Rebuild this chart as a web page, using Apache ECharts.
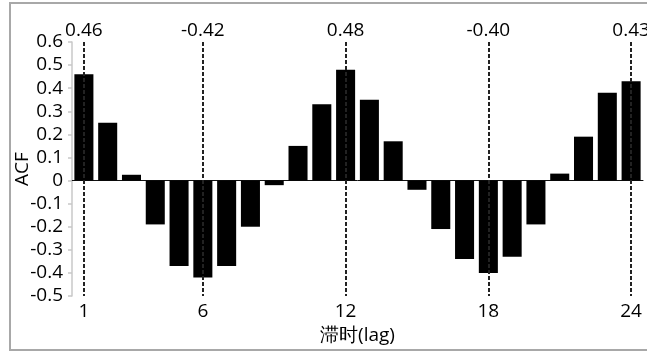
<!DOCTYPE html>
<html>
<head>
<meta charset="utf-8">
<script src="https://cdn.jsdelivr.net/npm/echarts@6/dist/echarts.min.js"></script>
<style>
  html, body { margin: 0; padding: 0; background: #fff; }
  #chart { width: 647px; height: 354px; }
</style>
</head>
<body>
<div id="chart"></div>
<script>
// Autocorrelation by lag
const lags = ['1','2','3','4','5','6','7','8','9','10','11','12','13','14','15','16','17','18','19','20','21','22','23','24'];
const acf = [0.46, 0.25, 0.025, -0.19, -0.37, -0.42, -0.37, -0.20, -0.02, 0.15, 0.33, 0.48,
             0.35, 0.17, -0.04, -0.21, -0.34, -0.40, -0.33, -0.19, 0.03, 0.19, 0.38, 0.43];
// Lags marked with a dashed guide and their value
const markedLags = ['1', '6', '12', '18', '24'];
const yTicks = { min: -0.5, max: 0.6, step: 0.1 };

const FONT = 'Open Sans';
const FS = 19;
const chart = echarts.init(document.getElementById('chart'), null, { renderer: 'canvas' });

const guideLines = markedLags.map(lag => {
  const v = acf[lags.indexOf(lag)];
  return [
    { coord: [lag, yTicks.max], label: { formatter: v.toFixed(2) } },
    { coord: [lag, yTicks.min] }
  ];
});

chart.setOption({
  animation: false,
  graphic: [{
    type: 'rect',
    shape: { x: 10, y: 3, width: 660, height: 347 },
    style: { fill: 'none', stroke: '#a8a8a8', lineWidth: 2 },
    silent: true, z: -1
  }],
  grid: { left: 72, right: 4, top: 42, bottom: 58, containLabel: false, outerBoundsMode: 'none' },
  xAxis: [{
    type: 'category',
    data: lags,
    position: 'bottom',
    axisLine: { show: false, onZero: false },
    axisTick: { show: false },
    axisLabel: {
      interval: (i, val) => markedLags.includes(val),
      color: '#000', fontSize: FS, fontFamily: FONT, margin: 6
    },
    name: '滞时(lag)',
    nameLocation: 'middle',
    nameGap: 30,
    nameTextStyle: { color: '#000', fontSize: FS, fontFamily: FONT }
  }, {
    type: 'category',
    data: lags,
    position: 'bottom',
    axisLine: { show: true, onZero: true, lineStyle: { color: '#111', width: 1 } },
    axisTick: { show: false },
    axisLabel: { show: false }
  }],
  yAxis: {
    type: 'value',
    min: yTicks.min, max: yTicks.max, interval: yTicks.step,
    splitLine: { show: false },
    axisLine: { show: true, lineStyle: { color: '#c8c8c8', width: 1.5 } },
    axisTick: { show: true, length: 4, lineStyle: { color: '#c8c8c8', width: 1.5 } },
    axisLabel: {
      color: '#000', fontSize: FS, fontFamily: FONT, margin: 9,
      formatter: v => { const r = Math.round(v * 10) / 10; return r === 0 ? '0' : r.toFixed(1); }
    },
    name: 'ACF',
    nameLocation: 'middle',
    nameGap: 40,
    nameMoveOverlap: false,
    nameRotate: 90,
    nameTextStyle: { color: '#000', fontSize: FS, fontFamily: FONT }
  },
  series: [{
    type: 'line',
    data: [],
    z: 1,
    silent: true,
    markLine: {
      silent: true,
      symbol: ['none', 'none'],
      lineStyle: { color: '#222', width: 2, type: [4, 2] },
      label: {
        show: true, position: 'start', distance: 2,
        color: '#000', fontSize: FS, fontFamily: FONT
      },
      data: guideLines
    }
  }, {
    type: 'bar',
    data: acf,
    z: 3,
    barCategoryGap: '20%',
    itemStyle: { color: '#000' }
  }]
});
</script>
</body>
</html>
